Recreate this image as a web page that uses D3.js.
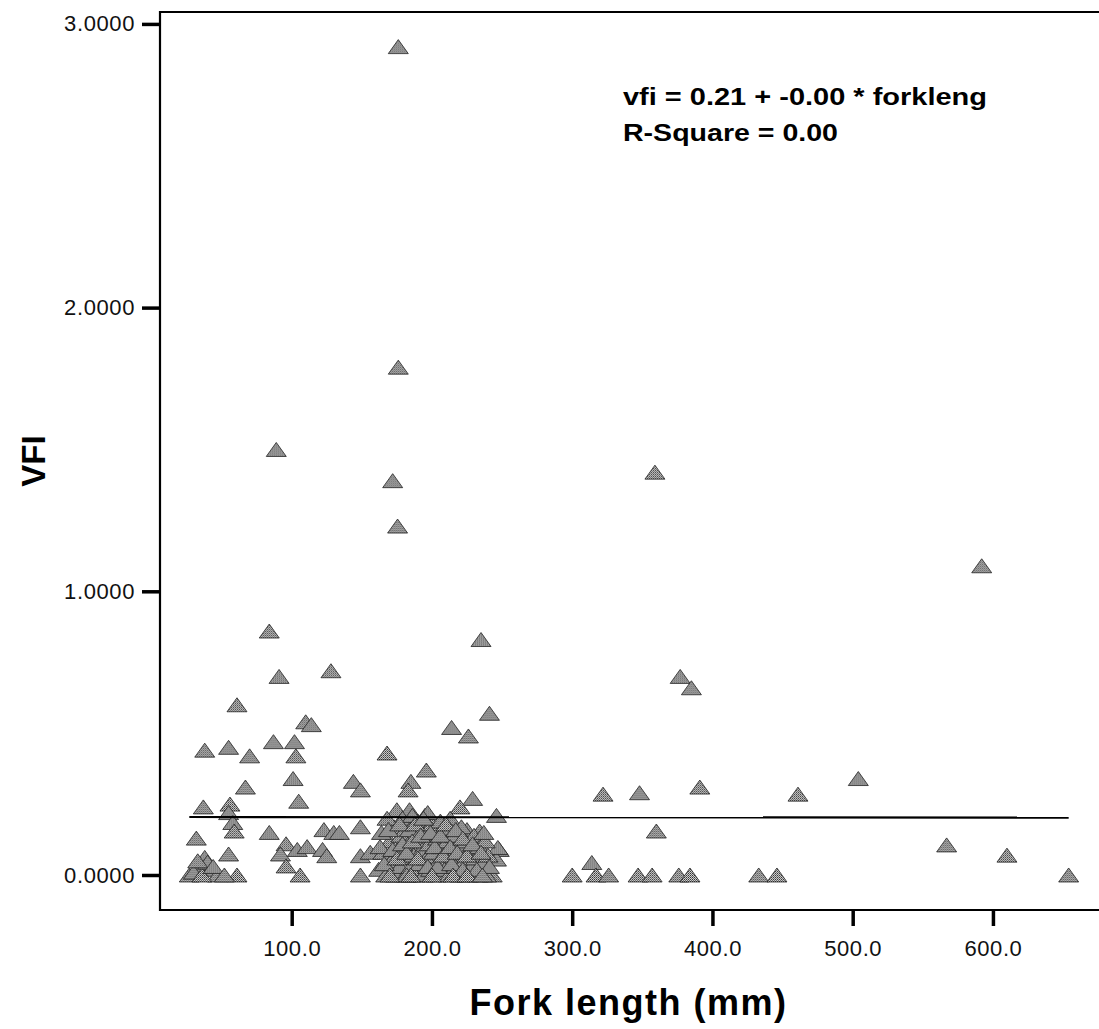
<!DOCTYPE html>
<html>
<head>
<meta charset="utf-8">
<script src="https://cdn.jsdelivr.net/npm/d3@7"></script>
<style>
  body { margin: 0; background: #fff; }
  text { font-family: "Liberation Sans", Arial, sans-serif; }
</style>
</head>
<body>
<figure id="scatter" style="margin:0"></figure>
<script>
// fork length (mm) and VFI
const forkLength = [
  176, 176, 89, 172, 175.5, 359, 592, 84, 235, 91, 128, 377, 385, 61, 110, 114, 241, 214, 226,
  38, 55, 70, 87, 102, 103, 168, 196, 185, 183, 67, 101, 144, 149, 105, 37, 56, 55, 58, 59,
  229, 220, 246, 175, 184, 195, 32, 84, 123, 130, 149, 134, 96, 92, 104, 111, 122, 125, 96, 106,
  38, 55, 35, 42, 27, 47, 61, 225, 234, 248, 149, 156, 149, 243, 246, 247,
  322, 348, 391, 360, 314, 300, 317, 326, 347, 357, 376, 384, 433, 446, 461, 504, 567, 610, 654,
  162, 165, 167, 170, 171, 173, 174, 176, 177, 178, 179, 180, 181, 183, 184, 185, 187, 188, 189,
  190, 191, 193, 194, 195, 196, 198, 199, 200, 201, 203, 204, 205, 207, 208, 209, 211, 212, 213,
  215, 216, 217, 219, 220, 221, 223, 224, 226, 227, 228, 230, 231, 233, 234, 236, 238, 239, 240,
  164, 168, 186, 197, 206,
  163, 166, 169, 172, 175, 177, 179, 182, 182, 186, 188, 190, 192, 194, 197, 199, 202, 204, 206,
  208, 210, 213, 214, 217, 218, 222, 222, 225, 229, 232, 235, 237, 241, 170, 185, 200, 215, 225, 236,
  30, 36, 40, 33, 44, 52
];
const vfi = [
  2.92, 1.79, 1.50, 1.39, 1.23, 1.42, 1.09, 0.86, 0.83, 0.70, 0.72, 0.70, 0.66, 0.60, 0.54, 0.53, 0.57, 0.52, 0.49,
  0.44, 0.45, 0.42, 0.47, 0.47, 0.42, 0.43, 0.37, 0.33, 0.30, 0.31, 0.34, 0.33, 0.30, 0.26, 0.24, 0.25, 0.22, 0.185, 0.155,
  0.27, 0.24, 0.21, 0.23, 0.23, 0.21, 0.13, 0.15, 0.16, 0.15, 0.17, 0.15, 0.11, 0.074, 0.09, 0.10, 0.09, 0.068, 0.032, 0,
  0.062, 0.074, 0.027, 0.02, 0, 0, 0, 0.16, 0.155, 0.09, 0.068, 0.08, 0, 0, 0.056, 0.097,
  0.285, 0.29, 0.31, 0.155, 0.044, 0, 0, 0, 0, 0, 0, 0, 0, 0, 0.285, 0.34, 0.106, 0.07, 0,
  0.02, 0.08, 0, 0.12, 0.05, 0.17, 0, 0.09, 0.03, 0.14, 0.20, 0.06, 0, 0.11, 0.16, 0.03, 0.07, 0, 0.13,
  0.19, 0.04, 0.09, 0, 0.15, 0.06, 0.11, 0.02, 0.18, 0.08, 0, 0.13, 0.05, 0.10, 0.16, 0.02, 0.12, 0, 0.20,
  0.07, 0.14, 0.03, 0.10, 0, 0.17, 0.05, 0.12, 0, 0.09, 0.03, 0.14, 0.06, 0, 0.10, 0.04, 0.12, 0, 0.07,
  0.15, 0.20, 0.21, 0.22, 0.19,
  0.10, 0.04, 0.16, 0.09, 0.06, 0.18, 0.11, 0, 0.08, 0.12, 0.18, 0.06, 0.14, 0.20, 0.03, 0.15, 0.10, 0.03, 0.14,
  0.07, 0.18, 0.10, 0.04, 0.16, 0.08, 0.02, 0.13, 0.07, 0.11, 0.02, 0.08, 0.15, 0.03, 0, 0, 0, 0, 0, 0,
  0.01, 0, 0.045, 0.05, 0.03, 0
];
const xTicks = [100, 200, 300, 400, 500, 600];
const yTicks = [0, 1, 2, 3];
const regIntercept = 0.2045;
const regSlope = -0.0000035;
const fitLines = ["vfi = 0.21 + -0.00 * forkleng", "R-Square = 0.00"];

const width = 1099, height = 1029;
const plotLeft = 160, plotRight = 1097, plotTop = 12, plotBottom = 910;

const svg = d3.select("figure#scatter")
  .append("svg")
  .attr("width", width)
  .attr("height", height);

const x = d3.scaleLinear().domain([6.1, 674.2]).range([plotLeft, plotRight]);
const y = d3.scaleLinear().domain([-0.1234, 3.042]).range([plotBottom, plotTop]);

// dithered grey fill like the old SPSS output
const defs = svg.append("defs");
const pat = defs.append("pattern")
  .attr("id", "dither")
  .attr("width", 2).attr("height", 2)
  .attr("patternUnits", "userSpaceOnUse");
pat.append("rect").attr("width", 2).attr("height", 2).attr("fill", "#d0d0d0");
pat.append("rect").attr("width", 1).attr("height", 1).attr("fill", "#333");
pat.append("rect").attr("x", 1).attr("y", 1).attr("width", 1).attr("height", 1).attr("fill", "#666");

const data = forkLength.map((d, i) => ({ fl: d, v: vfi[i] }));

// frame (left, top, bottom)
svg.append("path")
  .attr("d", `M${plotRight + 2},${plotTop} H${plotLeft} V${plotBottom} H${plotRight + 2}`)
  .attr("fill", "none")
  .attr("stroke", "#000")
  .attr("stroke-width", 2.2);

// axes
const yAxis = svg.append("g")
  .attr("transform", `translate(${plotLeft},0)`)
  .call(d3.axisLeft(y).tickValues(yTicks).tickFormat(d3.format(".4f")).tickSize(18).tickPadding(7));
const xAxis = svg.append("g")
  .attr("transform", `translate(0,${plotBottom})`)
  .call(d3.axisBottom(x).tickValues(xTicks).tickFormat(d3.format(".1f")).tickSize(16).tickPadding(14));

[xAxis, yAxis].forEach(g => {
  g.select(".domain").remove();
  g.selectAll(".tick line").attr("stroke", "#000").style("stroke-width", "3.5px");
  g.selectAll(".tick text")
    .attr("fill", "#111")
    .style("font-size", "22px")
    .style("letter-spacing", "0.6px");
});

// markers: triangles centred on the value
const tri = "M0,-7 L10,7 L-10,7 Z";
svg.append("g")
  .selectAll("path")
  .data(data)
  .enter()
  .append("path")
  .attr("d", tri)
  .attr("transform", d => `translate(${x(d.fl)},${y(d.v)})`)
  .attr("fill", "url(#dither)")
  .attr("stroke", "#222")
  .attr("stroke-width", 0.8);

// fit line over the data range
const xr = d3.extent(forkLength);
svg.append("line")
  .attr("x1", x(xr[0])).attr("x2", x(xr[1]))
  .attr("y1", y(regIntercept + regSlope * xr[0]))
  .attr("y2", y(regIntercept + regSlope * xr[1]))
  .attr("stroke", "#000")
  .attr("stroke-width", 2.2);

// fit annotation
svg.append("text")
  .attr("x", 623).attr("y", 105)
  .attr("textLength", 364).attr("lengthAdjust", "spacingAndGlyphs")
  .style("font-size", "23px").style("font-weight", "bold")
  .text(fitLines[0]);
svg.append("text")
  .attr("x", 623).attr("y", 141)
  .attr("textLength", 215).attr("lengthAdjust", "spacingAndGlyphs")
  .style("font-size", "23px").style("font-weight", "bold")
  .text(fitLines[1]);

// axis titles
svg.append("text")
  .attr("x", (plotLeft + plotRight) / 2).attr("y", 1015)
  .attr("text-anchor", "middle")
  .style("font-size", "36px").style("font-weight", "bold")
  .style("letter-spacing", "1.5px")
  .text("Fork length (mm)");
svg.append("text")
  .attr("transform", `translate(45,${(plotTop + plotBottom) / 2}) rotate(-90)`)
  .attr("text-anchor", "middle")
  .style("font-size", "33px").style("font-weight", "bold")
  .text("VFI");
</script>
</body>
</html>
